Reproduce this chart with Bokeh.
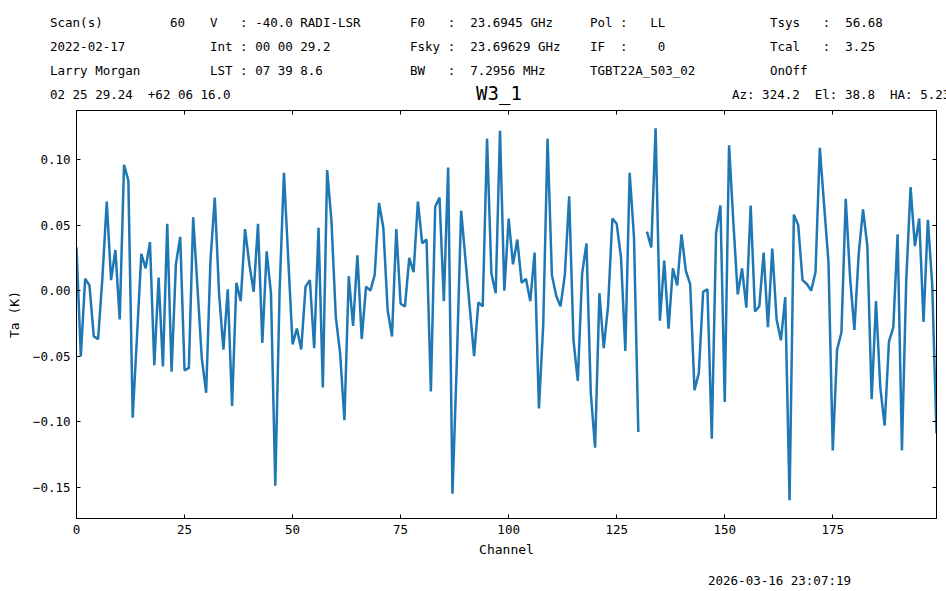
import numpy as np
from bokeh.plotting import figure
from bokeh.layouts import column
from bokeh.models import Div, LinearAxis, FixedTicker, Range1d, CustomJSTickFormatter
from bokeh.embed import file_html
from bokeh.resources import INLINE

NAN = float("nan")

channels = list(range(200))
ta = [
    0.033, -0.050, 0.009, 0.004, -0.035, -0.037, 0.010, 0.068, 0.008, 0.031,
    -0.022, 0.096, 0.084, -0.097, -0.035, 0.028, 0.017, 0.037, -0.057, 0.010,
    -0.058, 0.051, -0.062, 0.020, 0.041, -0.061, -0.059, 0.056, 0.002, -0.052,
    -0.078, 0.023, 0.071, -0.003, -0.045, 0.001, -0.088, 0.006, -0.008, 0.047,
    0.020, -0.001, 0.051, -0.040, 0.030, -0.002, -0.149, 0.000, 0.090, 0.024,
    -0.041, -0.029, -0.045, 0.003, 0.008, -0.044, 0.048, -0.074, 0.092, 0.053,
    -0.020, -0.048, -0.099, 0.011, -0.027, 0.027, -0.037, 0.003, 0.000, 0.012,
    0.067, 0.048, -0.015, -0.035, 0.047, -0.010, -0.012, 0.025, 0.014, 0.068,
    0.036, 0.039, -0.077, 0.064, 0.071, -0.008, 0.094, -0.155, -0.055, 0.061,
    0.024, -0.013, -0.050, -0.009, -0.012, 0.116, 0.013, -0.002, 0.122, 0.000,
    0.055, 0.020, 0.039, 0.006, 0.009, -0.008, 0.029, -0.090, -0.026, 0.116,
    0.012, -0.004, -0.012, 0.012, 0.072, -0.038, -0.069, 0.013, 0.036, -0.078,
    -0.120, -0.002, -0.044, -0.012, 0.055, 0.051, 0.025, -0.046, 0.090, 0.041,
    -0.108, NAN, 0.045, 0.033, 0.124, -0.023, 0.023, -0.029, 0.017, 0.004,
    0.043, 0.015, 0.005, -0.076, -0.063, -0.001, 0.001, -0.113, 0.044, 0.065,
    -0.085, 0.111, 0.052, -0.003, 0.017, -0.013, 0.065, -0.016, -0.012, 0.029,
    -0.028, 0.032, -0.022, -0.038, -0.005, -0.160, 0.058, 0.050, 0.008, 0.005,
    0.000, 0.014, 0.109, 0.065, 0.022, -0.122, -0.045, -0.032, 0.070, 0.010,
    -0.030, 0.028, 0.062, 0.034, -0.083, -0.008, -0.074, -0.103, -0.039, -0.028,
    0.043, -0.122, 0.008, 0.079, 0.034, 0.055, -0.024, 0.054, 0.005, -0.109,
]

x_ticks = [0, 25, 50, 75, 100, 125, 150, 175]
y_ticks = [-0.15, -0.10, -0.05, 0.0, 0.05, 0.10]

header_rows = [
    ["Scan(s)", "60", "V   : -40.0 RADI-LSR", "F0   :  23.6945 GHz", "Pol :   LL", "Tsys   :  56.68"],
    ["2022-02-17", "", "Int : 00 00 29.2", "Fsky :  23.69629 GHz", "IF  :    0", "Tcal   :  3.25"],
    ["Larry Morgan", "", "LST : 07 39 8.6", "BW   :  7.2956 MHz", "TGBT22A_503_02", "OnOff"],
]
coord_text = "02 25 29.24  +62 06 16.0"
source_name = "W3_1"
azel_text = "Az: 324.2  El: 38.8  HA: 5.23"
stamp_text = "2026-03-16 23:07:19"

MONO = "DejaVu Sans Mono"
BLUE = "#1f77b4"
W = 946
HEADER_H = 110
TOP_B = 0
FRAME_H = 408
BOTTOM_B = 47
FIG_H = TOP_B + FRAME_H + BOTTOM_B
FOOTER_H = 24


def span(x, yc, txt, size=12.5, center=False):
    tx = "-50%" if center else "0"
    return (f'<span style="position:absolute;left:{x}px;top:{yc}px;'
            f'transform:translate({tx},-50%);white-space:pre;line-height:1.25;'
            f'font-family:\'{MONO}\';font-size:{size}px;color:black;">{txt}</span>')


col_x = [50, 170, 210, 410, 590, 770]
row_y = [23, 47, 71]
parts = []
for r, row in enumerate(header_rows):
    for c, txt in enumerate(row):
        if txt:
            parts.append(span(col_x[c], row_y[r], txt))
parts.append(span(50, 95, coord_text))
parts.append(span(499, 94, source_name, size=19, center=True))
parts.append(span(732, 95, azel_text))

header = Div(text=(f'<div style="position:relative;width:{W}px;height:{HEADER_H}px;overflow:visible;">'
                   + "".join(parts) + "</div>"),
             width=W, height=HEADER_H, margin=0)

footer_y0 = HEADER_H + FIG_H
footer = Div(text=(f'<div style="position:relative;width:{W}px;height:{FOOTER_H}px;">'
                   + span(708, 581 - footer_y0, stamp_text) + "</div>"),
             width=W, height=FOOTER_H, margin=0)

p = figure(width=W, height=FIG_H, output_backend="svg", toolbar_location=None,
           x_range=Range1d(0, 199), y_range=Range1d(-0.174, 0.1375),
           min_border_left=76, min_border_right=10, min_border_top=TOP_B,
           min_border_bottom=BOTTOM_B, x_axis_label="Channel", y_axis_label="Ta (K)",
           margin=0)
p.grid.visible = False
p.outline_line_color = "black"
p.outline_line_width = 1
p.background_fill_color = "white"
p.border_fill_color = "white"

p.line(channels, np.array(ta, dtype=float), line_color=BLUE, line_width=2.5)

for ax in (p.xaxis[0], p.yaxis[0]):
    ax.major_tick_in = 4
    ax.major_tick_out = 0
    ax.minor_tick_line_color = None
    ax.axis_line_color = "black"
    ax.major_label_text_font = MONO
    ax.major_label_text_font_size = "12.5px"
    ax.major_label_text_color = "black"
    ax.axis_label_text_font = MONO
    ax.axis_label_text_font_size = "13px"
    ax.axis_label_text_font_style = "normal"
    ax.axis_label_text_color = "black"
    ax.major_label_standoff = 6

p.xaxis[0].ticker = FixedTicker(ticks=x_ticks)
p.yaxis[0].ticker = FixedTicker(ticks=y_ticks)
p.yaxis[0].formatter = CustomJSTickFormatter(code="return tick.toFixed(2).replace('-', '\u2212');")
p.xaxis[0].formatter = CustomJSTickFormatter(code="return tick.toFixed(0);")
p.yaxis[0].axis_label_standoff = 8
p.xaxis[0].axis_label_standoff = 5

blank = CustomJSTickFormatter(code="return '';")
top_ax = LinearAxis(ticker=FixedTicker(ticks=x_ticks), formatter=blank,
                    major_tick_in=4, major_tick_out=0, minor_tick_line_color=None,
                    major_label_standoff=0, major_label_text_font_size="0px")
right_ax = LinearAxis(ticker=FixedTicker(ticks=y_ticks), formatter=blank,
                      major_tick_in=4, major_tick_out=0, minor_tick_line_color=None,
                      major_label_standoff=0, major_label_text_font_size="0px")
p.add_layout(top_ax, "above")
p.add_layout(right_ax, "right")

layout = column(header, p, footer, spacing=0, margin=0)

open("out.html", "w").write(file_html(layout, INLINE))
